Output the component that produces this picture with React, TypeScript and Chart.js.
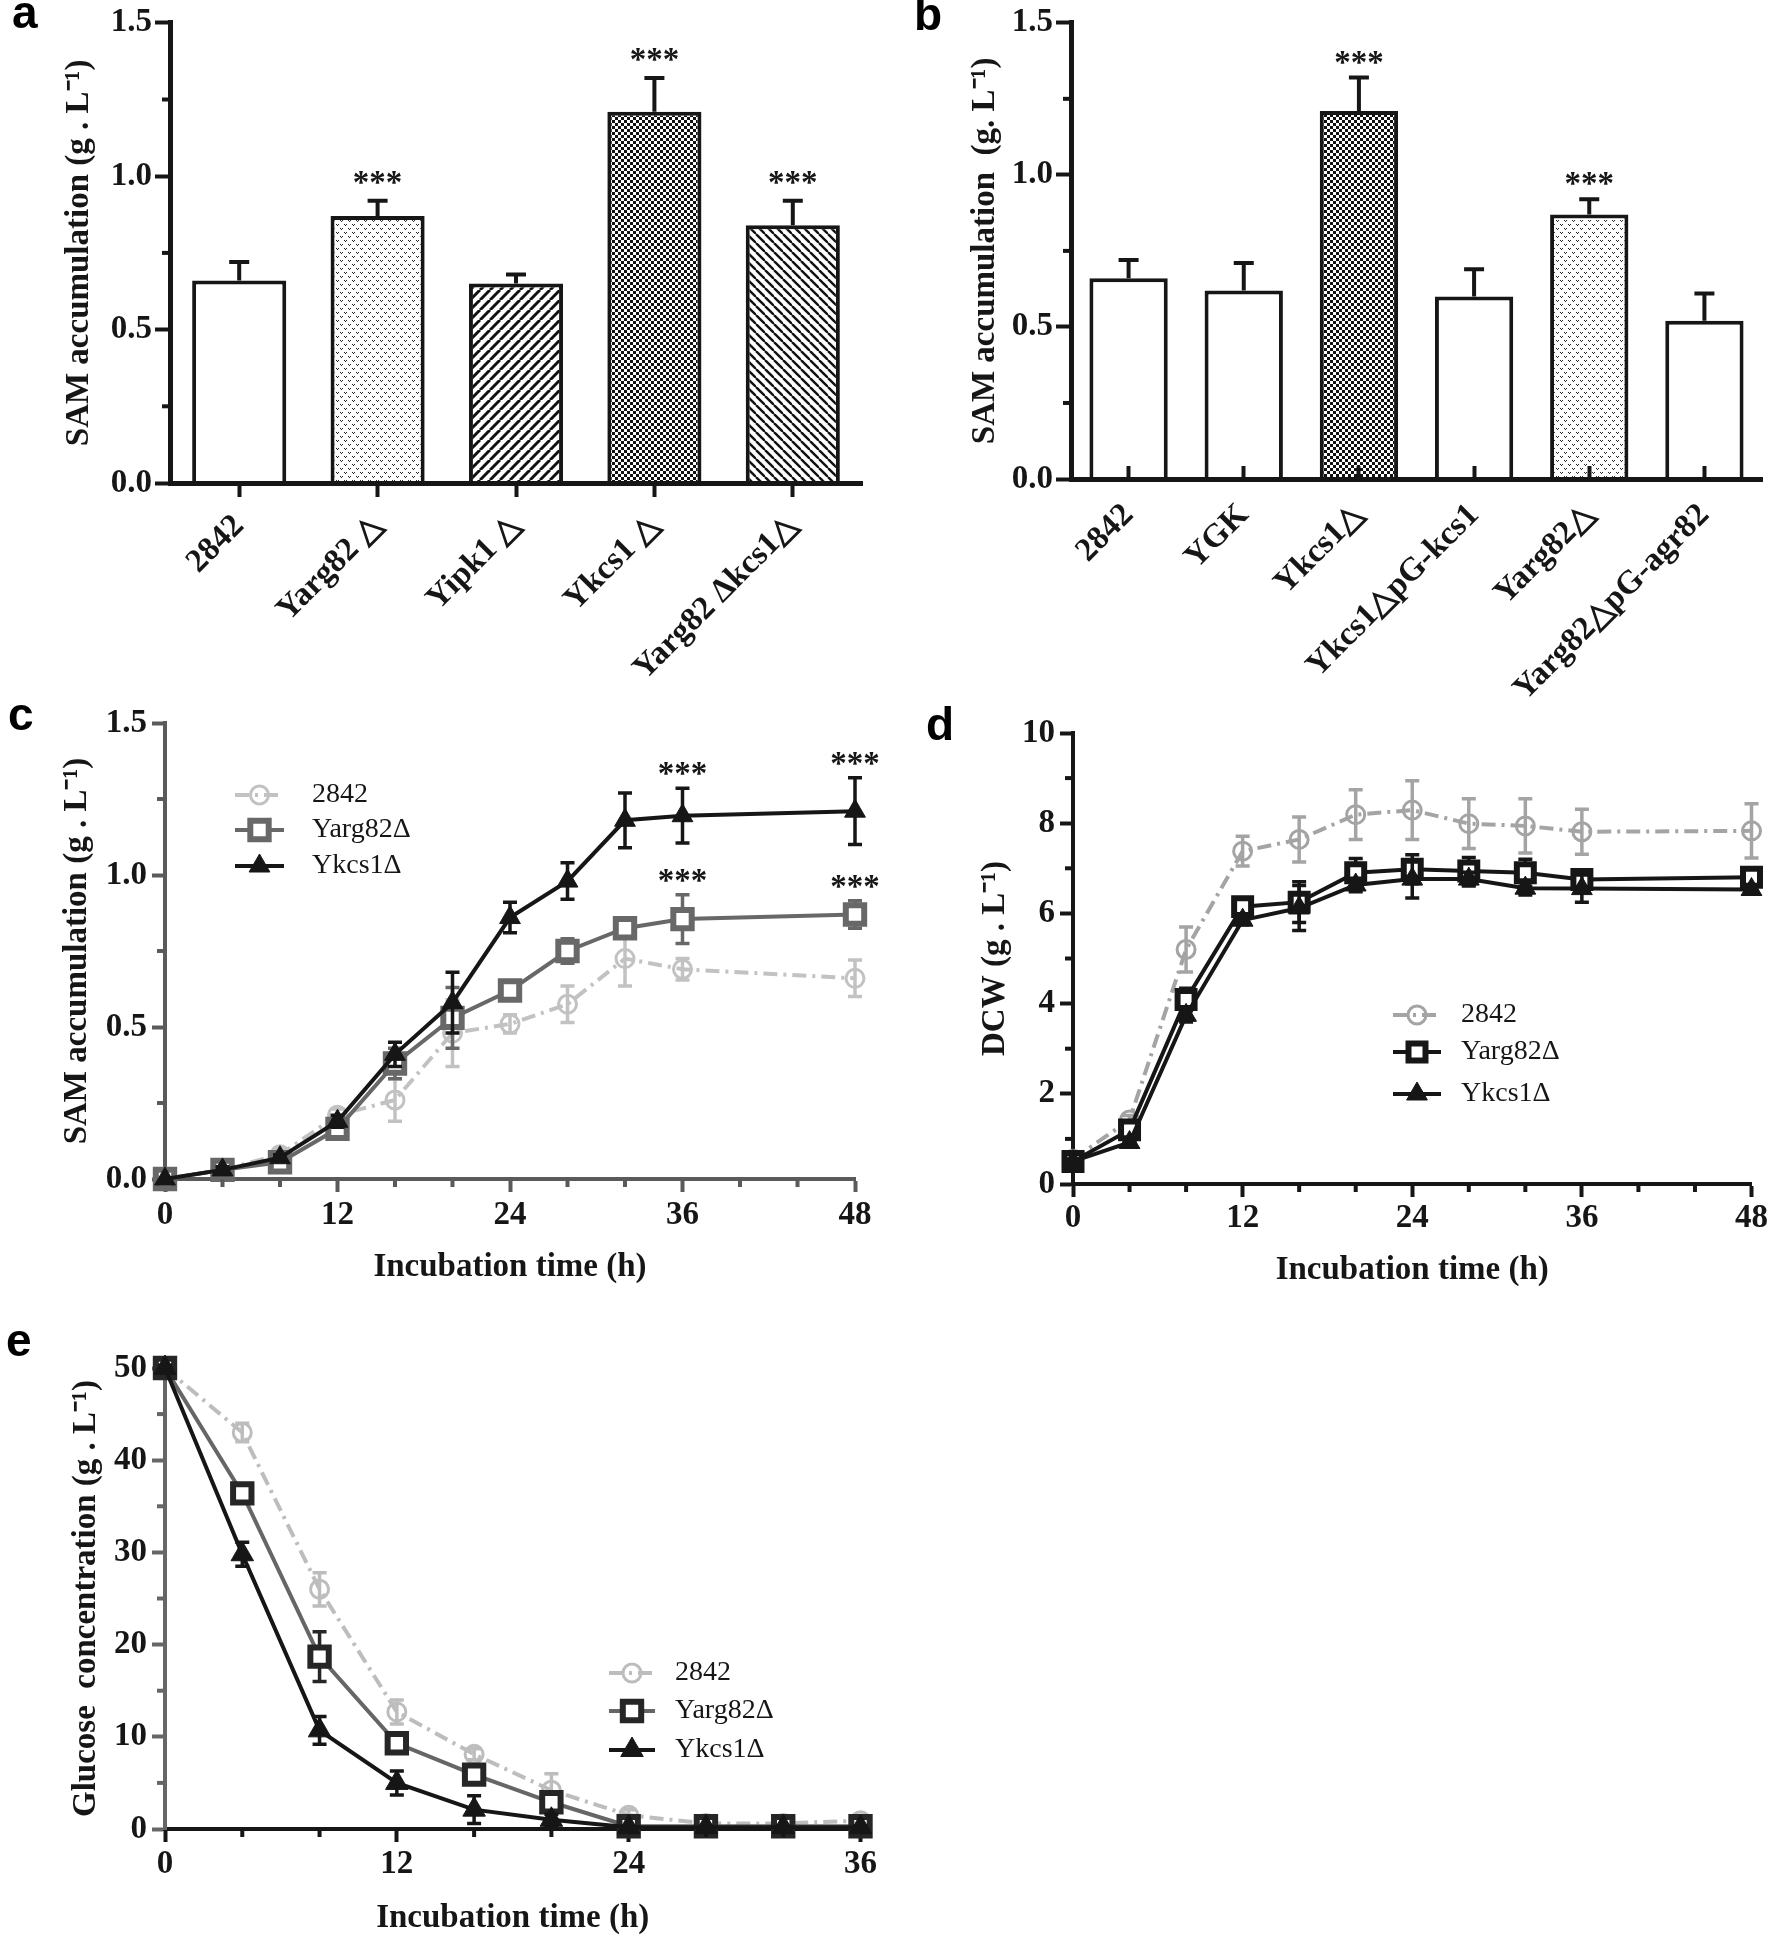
import React, { useEffect, useRef } from 'react';
import { Chart, registerables } from 'chart.js';
import { drawPoint } from 'chart.js/helpers';

Chart.register(...registerables);

const SERIF = '"Liberation Serif", "Times New Roman", serif';
const SANS = '"Liberation Sans", Arial, sans-serif';
const INK = '#161616';

// ---------- data: panel a ----------
const catsA = ['2842', 'Yarg82 △', 'Yipk1 △', 'Ykcs1 △', 'Yarg82 Δkcs1△'];
const valsA = [0.66, 0.87, 0.65, 1.21, 0.84];
const errA = [0.06, 0.05, 0.03, 0.11, 0.08];
const sigA = ['', '***', '', '***', '***'];
const patternA = ['white', 'stipple', 'slash', 'checker', 'backslash'];

// ---------- data: panel b ----------
const catsB = ['2842', 'YGK', 'Ykcs1△', 'Ykcs1△pG-kcs1', 'Yarg82△', 'Yarg82△pG-agr82'];
const valsB = [0.66, 0.62, 1.21, 0.6, 0.87, 0.52];
const errB = [0.06, 0.09, 0.11, 0.09, 0.05, 0.09];
const sigB = ['', '', '***', '', '***', ''];
const patternB = ['white', 'white', 'checker', 'white', 'stipple', 'white'];

// ---------- data: panels c, d ----------
const timeCD = [0, 4, 8, 12, 16, 20, 24, 28, 32, 36, 48];
const sam2842 = [0, 0.03, 0.08, 0.21, 0.26, 0.48, 0.51, 0.575, 0.725, 0.69, 0.66];
const sam2842Err = [0, 0.01, 0.02, 0.02, 0.07, 0.11, 0.03, 0.06, 0.09, 0.035, 0.06];
const samYarg = [0, 0.03, 0.055, 0.165, 0.38, 0.53, 0.62, 0.75, 0.825, 0.855, 0.87];
const samYargErr = [0, 0.01, 0.01, 0.01, 0.05, 0.1, 0.01, 0.04, 0.03, 0.08, 0.045];
const samYkcs = [0, 0.03, 0.07, 0.19, 0.41, 0.58, 0.86, 0.98, 1.18, 1.195, 1.21];
const samYkcsErr = [0, 0.01, 0.01, 0.02, 0.04, 0.1, 0.05, 0.06, 0.09, 0.09, 0.11];
const sigC = ['', '', '', '', '', '', '', '', '', '***', '***'];

const dcw2842 = [0.55, 1.42, 5.2, 7.38, 7.64, 8.19, 8.29, 7.99, 7.94, 7.81, 7.83];
const dcw2842Err = [0.05, 0.1, 0.5, 0.33, 0.5, 0.55, 0.65, 0.55, 0.6, 0.5, 0.6];
const dcwYarg = [0.5, 1.2, 4.09, 6.15, 6.25, 6.9, 6.98, 6.94, 6.9, 6.75, 6.8];
const dcwYargErr = [0.05, 0.1, 0.25, 0.12, 0.45, 0.32, 0.32, 0.3, 0.3, 0.15, 0.15];
const dcwYkcs = [0.5, 0.92, 3.74, 5.85, 6.12, 6.63, 6.76, 6.76, 6.56, 6.55, 6.53];
const dcwYkcsErr = [0.05, 0.05, 0.15, 0.1, 0.5, 0.15, 0.42, 0.15, 0.15, 0.3, 0.1];

// ---------- data: panel e ----------
const timeE = [0, 4, 8, 12, 16, 20, 24, 28, 32, 36];
const glc2842 = [50, 43, 26, 12.7, 8.1, 4.2, 1.5, 0.6, 0.6, 0.9];
const glc2842Err = [0.3, 1, 1.8, 1.3, 0.6, 1.8, 0.6, 0.3, 0.4, 0.6];
const glcYarg = [50, 36.4, 18.7, 9.3, 5.9, 2.9, 0.3, 0.3, 0.3, 0.3];
const glcYargErr = [0.3, 0.8, 2.7, 0.7, 0.8, 0.5, 0.2, 0.2, 0.2, 0.2];
const glcYkcs = [50, 29.8, 10.7, 5.0, 2.1, 1.0, 0.2, 0.2, 0.2, 0.2];
const glcYkcsErr = [0.3, 1.3, 1.5, 1.3, 1.5, 0.6, 0.1, 0.1, 0.1, 0.1];

const seriesNames = ['2842', 'Yarg82Δ', 'Ykcs1Δ'];

// ---------- helpers ----------
const tickFont = { family: SERIF, size: 33, weight: 'bold' as const, lineHeight: 1.2 };
const titleFont = { family: SERIF, size: 33, weight: 'bold' as const, lineHeight: 1 };

function isMult(v: number, m: number) {
  const r = v / m;
  return Math.abs(r - Math.round(r)) < 1e-6;
}
const pts = (xs: number[], ys: number[]) => xs.map((x, i) => ({ x, y: ys[i] }));

function makePattern(kind: string): any {
  if (kind === 'white') return '#ffffff';
  const c = document.createElement('canvas');
  const g = c.getContext('2d')!;
  if (kind === 'checker') {
    c.width = 6; c.height = 6;
    g.fillStyle = '#fff'; g.fillRect(0, 0, 6, 6);
    g.fillStyle = '#111'; g.fillRect(0, 0, 3, 3); g.fillRect(3, 3, 3, 3);
  } else if (kind === 'stipple') {
    c.width = 8; c.height = 8;
    g.fillStyle = '#fff'; g.fillRect(0, 0, 8, 8);
    g.fillStyle = '#2a2a2a';
    g.fillRect(0, 0, 1, 1); g.fillRect(2, 0, 1, 1); g.fillRect(1, 1, 1, 1);
    g.fillRect(4, 4, 1, 1); g.fillRect(6, 4, 1, 1); g.fillRect(5, 5, 1, 1);
  } else {
    const n = kind === 'slash' ? 10 : 9;
    c.width = n; c.height = n;
    g.fillStyle = '#fff'; g.fillRect(0, 0, n, n);
    g.strokeStyle = '#111'; g.lineWidth = kind === 'slash' ? 3 : 2.4;
    for (const o of [-n, 0, n]) {
      g.beginPath();
      if (kind === 'slash') { g.moveTo(o, n); g.lineTo(o + n, 0); }
      else { g.moveTo(o, 0); g.lineTo(o + n, n); }
      g.stroke();
    }
  }
  return g.createPattern(c, 'repeat');
}

function letterPlugin(text: string, x: number, y: number) {
  return {
    id: 'panelLetter',
    afterDraw(chart: any) {
      const c = chart.ctx;
      c.save();
      c.font = `bold 46px ${SANS}`;
      c.fillStyle = '#000';
      c.textAlign = 'left';
      c.textBaseline = 'alphabetic';
      c.fillText(text, x, y);
      c.restore();
    },
  };
}

type Minor = { major: number; len: number; width: number; color: string };
function minorTicksPlugin(cfg: { x?: Minor; y?: Minor }) {
  return {
    id: 'minorTicks',
    afterDraw(chart: any) {
      const ctx = chart.ctx;
      ctx.save();
      (['x', 'y'] as const).forEach((k) => {
        const m = cfg[k];
        if (!m) return;
        const s = chart.scales[k];
        ctx.strokeStyle = m.color;
        ctx.lineWidth = m.width;
        ctx.setLineDash([]);
        s.ticks.forEach((t: any) => {
          if (isMult(t.value, m.major)) return;
          const p = s.getPixelForValue(t.value);
          ctx.beginPath();
          if (k === 'x') { ctx.moveTo(p, s.top); ctx.lineTo(p, s.top + m.len); }
          else { ctx.moveTo(s.right - m.len, p); ctx.lineTo(s.right, p); }
          ctx.stroke();
        });
      });
      ctx.restore();
    },
  };
}

function valOf(raw: any) {
  return typeof raw === 'number' ? raw : raw.y;
}

function errorBarsPlugin(errs: number[][], opts: { up: boolean; cap: number; width: number; after: boolean }) {
  const draw = (chart: any, args: any) => {
    const e = errs[args.index];
    if (!e) return;
    const ds = chart.data.datasets[args.index];
    const ys = chart.scales.y;
    const ctx = chart.ctx;
    ctx.save();
    const col = ds.errColor || ds.pointBorderColor || ds.borderColor;
    ctx.strokeStyle = typeof col === 'string' ? col : INK;
    ctx.lineWidth = opts.width;
    ctx.setLineDash([]);
    ctx.lineCap = 'butt';
    args.meta.data.forEach((el: any, i: number) => {
      const err = e[i];
      if (!err) return;
      const v = valOf(ds.data[i]);
      const x = el.x;
      const yTop = ys.getPixelForValue(v + err);
      const yBot = opts.up ? ys.getPixelForValue(v) : ys.getPixelForValue(v - err);
      ctx.beginPath();
      ctx.moveTo(x, yTop); ctx.lineTo(x, yBot);
      ctx.moveTo(x - opts.cap / 2, yTop); ctx.lineTo(x + opts.cap / 2, yTop);
      if (!opts.up) { ctx.moveTo(x - opts.cap / 2, yBot); ctx.lineTo(x + opts.cap / 2, yBot); }
      ctx.stroke();
    });
    ctx.restore();
  };
  return opts.after
    ? { id: 'errorBars', afterDatasetDraw: draw }
    : { id: 'errorBars', beforeDatasetDraw: draw };
}

function starsPlugin(items: { ds: number; idx: number; text: string }[], errs: number[][], lift: number) {
  return {
    id: 'stars',
    afterDatasetsDraw(chart: any) {
      const ctx = chart.ctx;
      ctx.save();
      ctx.font = `bold 33px ${SERIF}`;
      ctx.fillStyle = INK;
      ctx.textAlign = 'center';
      ctx.textBaseline = 'alphabetic';
      items.forEach(({ ds, idx, text }) => {
        if (!text) return;
        const el = chart.getDatasetMeta(ds).data[idx];
        const v = valOf(chart.data.datasets[ds].data[idx]);
        const y = chart.scales.y.getPixelForValue(v + errs[ds][idx]);
        ctx.fillText(text, el.x, y - lift);
      });
      ctx.restore();
    },
  };
}

function legendPlugin(items: { ds: number; y: number }[], x1: number, x2: number, tx: number) {
  return {
    id: 'innerLegend',
    afterDraw(chart: any) {
      const ctx = chart.ctx;
      ctx.save();
      items.forEach(({ ds, y }) => {
        const d = chart.data.datasets[ds];
        ctx.strokeStyle = d.borderColor;
        ctx.lineWidth = d.borderWidth;
        ctx.setLineDash(d.borderDash || []);
        ctx.beginPath();
        ctx.moveTo(x1, y); ctx.lineTo(x2, y);
        ctx.stroke();
        ctx.setLineDash([]);
        ctx.fillStyle = d.pointBackgroundColor;
        ctx.strokeStyle = d.pointBorderColor;
        ctx.lineWidth = d.pointBorderWidth;
        drawPoint(ctx, { pointStyle: d.pointStyle, radius: d.pointRadius, borderWidth: d.pointBorderWidth, rotation: 0 } as any, (x1 + x2) / 2, y);
        ctx.font = `28px ${SERIF}`;
        ctx.fillStyle = INK;
        ctx.textAlign = 'left';
        ctx.textBaseline = 'middle';
        ctx.fillText(d.label, tx, y);
      });
      ctx.restore();
    },
  };
}

function yAxis(o: { min: number; max: number; step: number; major: number; dec: number; color: string; border: number; tl: number; pad: number; width: number; title: string; titlePad: number }) {
  return {
    min: o.min,
    max: o.max,
    ticks: {
      stepSize: o.step,
      maxTicksLimit: 30,
      autoSkip: false,
      color: INK,
      font: tickFont,
      padding: o.pad,
      callback: (v: number) => (isMult(v, o.major) ? v.toFixed(o.dec) : ''),
    },
    grid: {
      drawOnChartArea: false,
      drawTicks: true,
      tickLength: o.tl,
      tickWidth: 4,
      tickColor: (c: any) => (c.tick && isMult(c.tick.value, o.major) ? o.color : 'rgba(0,0,0,0)'),
    },
    border: { color: o.color, width: o.border },
    title: { display: true, text: o.title, color: INK, font: titleFont, padding: { top: o.titlePad, bottom: 0 } },
    afterFit: (s: any) => { s.width = o.width; },
  };
}

function xLinear(o: { max: number; color: string; pad: number; height: number; titlePad: number }) {
  return {
    type: 'linear',
    min: 0,
    max: o.max,
    ticks: {
      stepSize: 4,
      maxTicksLimit: 30,
      autoSkip: false,
      maxRotation: 0,
      minRotation: 0,
      color: INK,
      font: tickFont,
      padding: o.pad,
      callback: (v: number) => (isMult(v, 12) ? String(v) : ''),
    },
    grid: {
      drawOnChartArea: false,
      drawTicks: true,
      tickLength: 13,
      tickWidth: 4,
      tickColor: (c: any) => (c.tick && isMult(c.tick.value, 12) ? o.color : 'rgba(0,0,0,0)'),
    },
    border: { color: o.color, width: 4 },
    title: { display: true, text: 'Incubation time (h)', color: INK, font: titleFont, padding: { top: 0, bottom: o.titlePad } },
    afterFit: (s: any) => { s.height = o.height; },
  };
}

function barConfig(p: {
  cats: string[]; vals: number[]; errs: number[]; sig: string[]; patterns: string[];
  padTop: number; padRight: number; yWidth: number; xHeight: number; xTl: number; xPad: number;
  title: string; titlePad: number; letter: [string, number, number]; starLift: number;
}) {
  return {
    type: 'bar',
    data: {
      labels: p.cats,
      datasets: [{
        data: p.vals,
        backgroundColor: p.patterns.map(makePattern),
        borderColor: INK,
        borderWidth: 4,
        errColor: INK,
        barPercentage: 0.68,
        categoryPercentage: 1,
      }],
    },
    options: {
      animation: false,
      responsive: false,
      devicePixelRatio: 1,
      layout: { padding: { top: p.padTop, right: p.padRight, left: 0, bottom: 0 }, autoPadding: false },
      plugins: { legend: { display: false }, tooltip: { enabled: false } },
      scales: {
        x: {
          offset: true,
          ticks: { color: INK, font: tickFont, maxRotation: 45, minRotation: 45, padding: p.xPad, autoSkip: false },
          grid: { z: 1, offset: false, drawOnChartArea: false, drawTicks: true, tickLength: p.xTl, tickWidth: 4, tickColor: INK },
          border: { z: 1, color: INK, width: 5 },
          afterFit: (s: any) => { s.height = p.xHeight; },
        },
        y: yAxis({ min: 0, max: 1.5, step: 0.25, major: 0.5, dec: 1, color: INK, border: 5, tl: 15, pad: 3, width: p.yWidth, title: p.title, titlePad: p.titlePad }),
      },
    },
    plugins: [
      errorBarsPlugin([p.errs], { up: true, cap: 20, width: 4, after: true }),
      starsPlugin(p.sig.map((t, i) => ({ ds: 0, idx: i, text: t })), [p.errs], p.starLift),
      minorTicksPlugin({ y: { major: 0.5, len: 8, width: 4, color: INK } }),
      letterPlugin(...p.letter),
    ],
  };
}

type SeriesStyle = {
  color: string; dash?: number[]; pointStyle: string; radius: number; pbw: number; pbc: string; pbg: string; order: number;
};
function lineDs(label: string, xs: number[], ys: number[], s: SeriesStyle) {
  return {
    label,
    data: pts(xs, ys),
    borderColor: s.color,
    borderWidth: 4,
    borderDash: s.dash || [],
    pointStyle: s.pointStyle,
    pointRadius: s.radius,
    pointBorderWidth: s.pbw,
    pointBorderColor: s.pbc,
    pointBackgroundColor: s.pbg,
    tension: 0,
    clip: false,
    order: s.order,
  };
}

function lineConfig(p: {
  datasets: any[]; errs: number[][]; xmax: number; ymax: number; ystep: number; ymajor: number; ydec: number;
  yTitle: string; yTitlePad: number; xTitlePad: number; yWidth: number; xHeight: number; padTop: number; padRight: number;
  xColor: string; yColor: string; xPad: number; extra: any[];
}) {
  return {
    type: 'line',
    data: { datasets: p.datasets },
    options: {
      animation: false,
      responsive: false,
      devicePixelRatio: 1,
      layout: { padding: { top: p.padTop, right: p.padRight, left: 0, bottom: 0 }, autoPadding: false },
      plugins: { legend: { display: false }, tooltip: { enabled: false } },
      scales: {
        x: xLinear({ max: p.xmax, color: p.xColor, pad: p.xPad, height: p.xHeight, titlePad: p.xTitlePad }),
        y: yAxis({ min: 0, max: p.ymax, step: p.ystep, major: p.ymajor, dec: p.ydec, color: p.yColor, border: 4, tl: 13, pad: 5, width: p.yWidth, title: p.yTitle, titlePad: p.yTitlePad }),
      },
    },
    plugins: [
      errorBarsPlugin(p.errs, { up: false, cap: 14, width: 3.5, after: false }),
      minorTicksPlugin({
        x: { major: 12, len: 8, width: 4, color: p.xColor },
        y: { major: p.ymajor, len: 8, width: 4, color: p.yColor },
      }),
      ...p.extra,
    ],
  };
}

// ---------- chart builders ----------
function buildA() {
  return barConfig({
    cats: catsA, vals: valsA, errs: errA, sig: sigA, patterns: patternA,
    padTop: 22, padRight: 18, yWidth: 170, xHeight: 197, xTl: 14, xPad: 10,
    title: 'SAM accumulation (g . L⁻¹)', titlePad: 63, letter: ['a', 12, 28], starLift: 8,
  });
}

function buildB() {
  return barConfig({
    cats: catsB, vals: valsB, errs: errB, sig: sigB, patterns: patternB,
    padTop: 22, padRight: 8, yWidth: 191, xHeight: 241, xTl: -13, xPad: 30,
    title: 'SAM accumulation  (g. L⁻¹)', titlePad: 89, letter: ['b', 34, 30], starLift: 5,
  });
}

function buildC() {
  const datasets = [
    lineDs(seriesNames[0], timeCD, sam2842, { color: '#c2c2c2', dash: [14, 6, 3, 6], pointStyle: 'circle', radius: 9, pbw: 3, pbc: '#c2c2c2', pbg: 'rgba(255,255,255,0)', order: 3 }),
    lineDs(seriesNames[1], timeCD, samYarg, { color: '#686868', pointStyle: 'rect', radius: 13, pbw: 6, pbc: '#686868', pbg: '#ffffff', order: 2 }),
    lineDs(seriesNames[2], timeCD, samYkcs, { color: INK, pointStyle: 'triangle', radius: 12, pbw: 1, pbc: INK, pbg: INK, order: 1 }),
  ];
  const errs = [sam2842Err, samYargErr, samYkcsErr];
  return lineConfig({
    datasets, errs, xmax: 48, ymax: 1.5, ystep: 0.25, ymajor: 0.5, ydec: 1,
    yTitle: 'SAM accumulation (g . L⁻¹)', yTitlePad: 61, xTitlePad: 16, yWidth: 165, xHeight: 121, padTop: 43, padRight: 25,
    xColor: '#5a5a5a', yColor: '#5a5a5a', xPad: 4,
    extra: [
      starsPlugin(sigC.flatMap((t, i) => [{ ds: 2, idx: i, text: t }, { ds: 1, idx: i, text: t }]), errs, 4),
      legendPlugin([{ ds: 0, y: 115 }, { ds: 1, y: 150 }, { ds: 2, y: 186 }], 235, 284, 312),
      letterPlugin('c', 8, 50),
    ],
  });
}

function buildD() {
  const datasets = [
    lineDs(seriesNames[0], timeCD, dcw2842, { color: '#a4a4a4', dash: [14, 6, 3, 6], pointStyle: 'circle', radius: 9, pbw: 3, pbc: '#a4a4a4', pbg: 'rgba(255,255,255,0)', order: 3 }),
    lineDs(seriesNames[1], timeCD, dcwYarg, { color: INK, pointStyle: 'rect', radius: 12, pbw: 6, pbc: INK, pbg: '#ffffff', order: 2 }),
    lineDs(seriesNames[2], timeCD, dcwYkcs, { color: INK, pointStyle: 'triangle', radius: 12, pbw: 1, pbc: INK, pbg: INK, order: 1 }),
  ];
  const errs = [dcw2842Err, dcwYargErr, dcwYkcsErr];
  return lineConfig({
    datasets, errs, xmax: 48, ymax: 10, ystep: 1, ymajor: 2, ydec: 0,
    yTitle: 'DCW (g . L⁻¹)', yTitlePad: 99, xTitlePad: 13, yWidth: 193, xHeight: 116, padTop: 53, padRight: 13,
    xColor: INK, yColor: INK, xPad: 2,
    extra: [
      legendPlugin([{ ds: 0, y: 335 }, { ds: 1, y: 372 }, { ds: 2, y: 414 }], 513, 561, 581),
      letterPlugin('d', 46, 60),
    ],
  });
}

function buildE() {
  const datasets = [
    lineDs(seriesNames[0], timeE, glc2842, { color: '#bdbdbd', dash: [14, 6, 3, 6], pointStyle: 'circle', radius: 9, pbw: 3, pbc: '#bdbdbd', pbg: 'rgba(255,255,255,0)', order: 3 }),
    lineDs(seriesNames[1], timeE, glcYarg, { color: '#666666', pointStyle: 'rect', radius: 13, pbw: 6, pbc: '#262626', pbg: '#ffffff', order: 2 }),
    lineDs(seriesNames[2], timeE, glcYkcs, { color: INK, pointStyle: 'triangle', radius: 13, pbw: 1, pbc: INK, pbg: INK, order: 1 }),
  ];
  const errs = [glc2842Err, glcYargErr, glcYkcsErr];
  return lineConfig({
    datasets, errs, xmax: 36, ymax: 50, ystep: 5, ymajor: 10, ydec: 0,
    yTitle: 'Glucose  concentration (g . L⁻¹)', yTitlePad: 70, xTitlePad: 0, yWidth: 165, xHeight: 106, padTop: 68, padRight: 17,
    xColor: INK, yColor: '#666666', xPad: 3,
    extra: [
      legendPlugin([{ ds: 0, y: 373 }, { ds: 1, y: 411 }, { ds: 2, y: 450 }], 609, 655, 675),
      letterPlugin('e', 6, 56),
    ],
  });
}

function ChartPanel({ left, top, width, height, build }: { left: number; top: number; width: number; height: number; build: () => any }) {
  const ref = useRef<HTMLCanvasElement>(null);
  useEffect(() => {
    const chart = new Chart(ref.current as HTMLCanvasElement, build());
    return () => chart.destroy();
  }, []);
  return (
    <canvas
      ref={ref}
      width={width}
      height={height}
      style={{ position: 'absolute', left, top, width, height }}
    />
  );
}

export default function App() {
  return (
    <div style={{ position: 'absolute', left: 0, top: 0, width: 1770, height: 1935, background: '#ffffff', overflow: 'hidden' }}>
      <ChartPanel left={0} top={680} width={880} height={620} build={buildC} />
      <ChartPanel left={880} top={680} width={890} height={620} build={buildD} />
      <ChartPanel left={0} top={1300} width={880} height={635} build={buildE} />
      <ChartPanel left={0} top={0} width={880} height={680} build={buildA} />
      <ChartPanel left={880} top={0} width={890} height={720} build={buildB} />
    </div>
  );
}
